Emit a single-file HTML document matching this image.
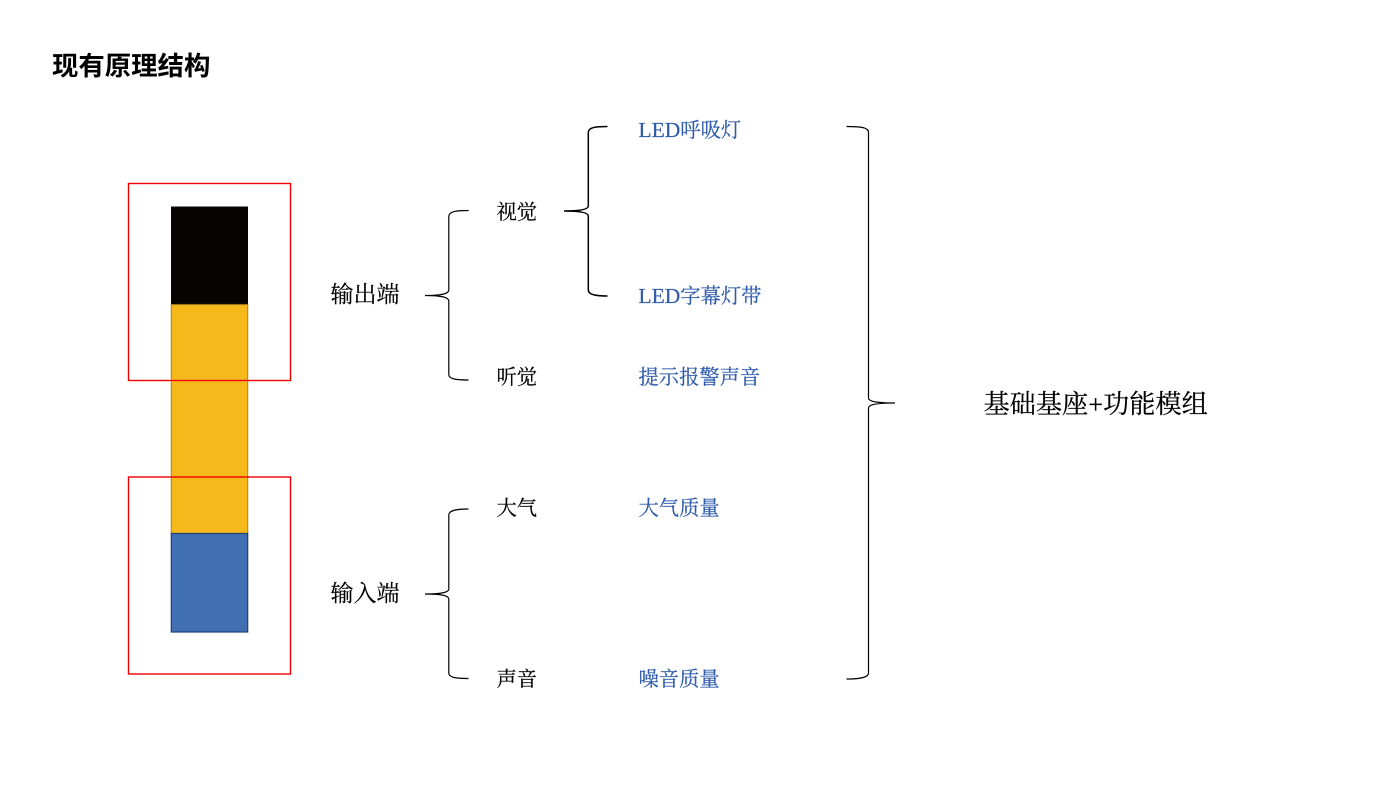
<!DOCTYPE html>
<html>
<head>
<meta charset="utf-8">
<style>
html,body{margin:0;padding:0;background:#fff;width:1400px;height:788px;overflow:hidden}
svg{display:block}
text{font-family:"Liberation Serif","Noto Serif CJK SC",serif}
.t{font-family:"Liberation Sans","Noto Sans CJK SC",sans-serif;font-weight:700;font-size:26.4px}
.b{fill:#2f5cab;stroke:#2f5cab;stroke-width:.2px;font-size:20.3px}
.k{fill:#000;stroke:#000;stroke-width:.2px;font-size:20.3px}
.m{fill:#000;stroke:#000;stroke-width:.2px;font-size:23px}
.l{font-size:21.5px}
.br{fill:none;stroke:#000;stroke-width:1.2}
</style>
</head>
<body>
<svg width="1400" height="788" viewBox="0 0 1400 788" xmlns="http://www.w3.org/2000/svg">
<text class="t" x="52" y="75">现有原理结构</text>

<rect x="171" y="206.500" width="77" height="98" fill="#070303"/>
<rect x="171.300" y="304.500" width="76.400" height="229" fill="#f5b91c" stroke="#a37c1a" stroke-width="1.200" stroke-opacity=".8"/>
<rect x="171.300" y="533.500" width="76.400" height="98.500" fill="#416fb4" stroke="#1f3f77" stroke-width="1.200"/>

<rect x="128.500" y="183.500" width="162" height="197" fill="none" stroke="#ee0000" stroke-width="1.400"/>
<rect x="128.500" y="477" width="162" height="197" fill="none" stroke="#ee0000" stroke-width="1.400"/>

<text class="m" x="330.500" y="302">输出端</text>
<text class="m" x="330.500" y="601">输入端</text>

<path class="br" d="M468.500 210.500 C458 210.500 448.800 211 448.800 216.500 L448.800 290 C448.800 293.500 443 295.500 425 295.500 C443 295.500 448.800 297.500 448.800 301 L448.800 374.500 C448.800 379.500 458 380 468.500 380"/>
<path class="br" d="M468.500 509 C458 509 448.800 510 448.800 515 L448.800 589 C448.800 592 443 594 425 594 C443 594 448.800 596 448.800 599 L448.800 673 C448.800 678 458 678.500 468.500 678.500"/>
<path class="br" d="M607.500 126.500 C597 126.500 588.300 127 588.300 132.500 L588.300 206 C588.300 209 582 211 564 211 C582 211 588.300 213 588.300 216 L588.300 290 C588.300 295 597 296 607.500 296" stroke="#222" style="stroke-width:1.500"/>
<path class="br" d="M846.500 126.500 C858 126.500 868.500 127 868.500 132 L868.500 398 C868.500 401 875 403 895 403 C875 403 868.500 405 868.500 408 L868.500 673 C868.500 678 858 679 846.500 679"/>

<text class="k" x="496.500" y="219">视觉</text>
<text class="k" x="496.500" y="384">听觉</text>
<text class="k" x="496.500" y="515">大气</text>
<text class="k" x="496.500" y="686">声音</text>

<text class="b" x="638.500" y="137"><tspan class="l">LED</tspan>呼吸灯</text>
<text class="b" x="638.500" y="303"><tspan class="l">LED</tspan>字幕灯带</text>
<text class="b" x="638.500" y="384">提示报警声音</text>
<text class="b" x="638.500" y="515">大气质量</text>
<text class="b" x="638.500" y="686">噪音质量</text>

<text x="983.500" y="413" font-size="26.200" fill="#000" stroke="#000" stroke-width=".2">基础基座+功能模组</text>
</svg>
</body>
</html>
